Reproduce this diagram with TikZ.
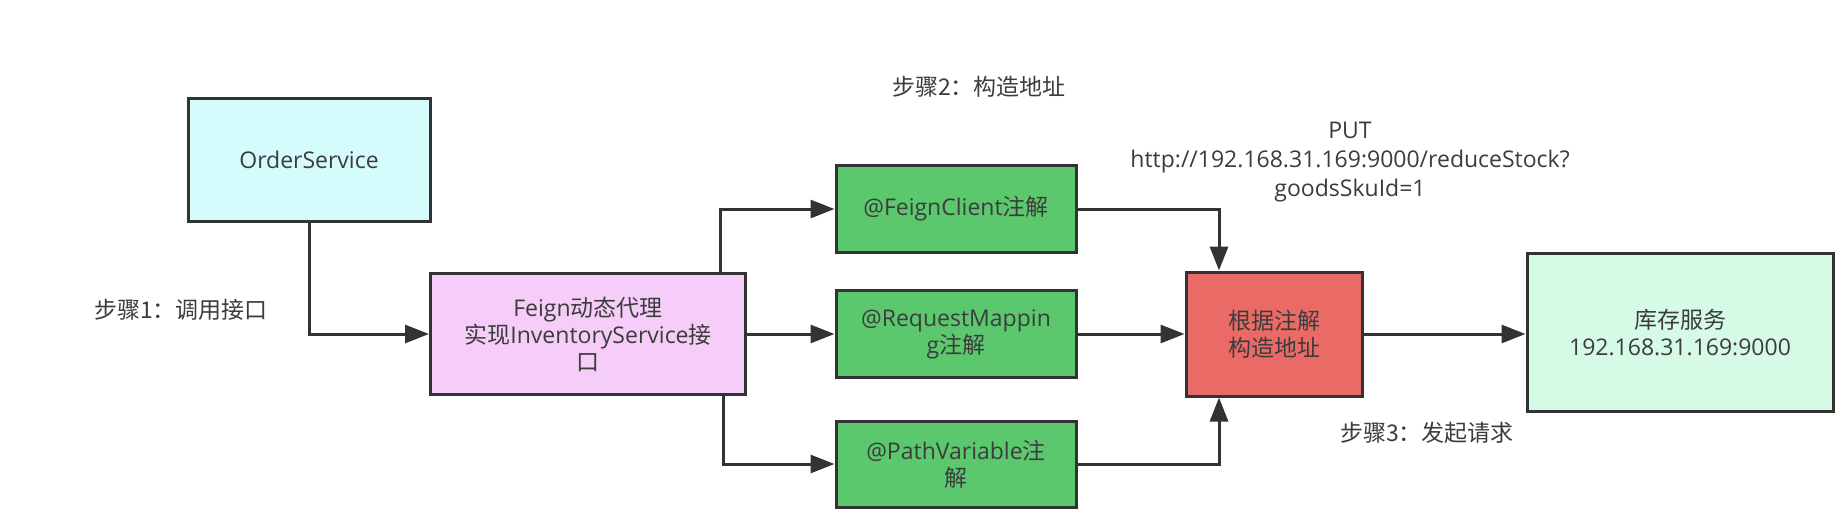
\documentclass[tikz,border=0pt]{standalone}
\usepackage{fontspec}
\setmainfont{Open Sans}
\newfontfamily\cjk{Noto Sans CJK SC}
\usepackage{xcolor}
\usepackage{tikz}
\usetikzlibrary{arrows.meta, positioning, calc}
\definecolor{edgecol}{RGB}{51, 51, 51}
\definecolor{txtcol}{RGB}{60, 60, 60}
\definecolor{ordercol}{RGB}{212, 252, 252}
\definecolor{feigncol}{RGB}{246, 204, 248}
\definecolor{annocol}{RGB}{92, 200, 110}
\definecolor{buildcol}{RGB}{234, 107, 102}
\definecolor{stockcol}{RGB}{213, 250, 229}

\begin{document}
\begin{tikzpicture}[x=1pt, y=-1pt,
    box/.style={draw=edgecol, line width=3pt, align=center, inner sep=2pt,
      text=txtcol, font=\fontsize{23}{27}\selectfont},
    flow/.style={draw=edgecol, line width=3pt,
      -{Triangle[length=24pt, width=18pt]}},
    note/.style={text=txtcol, align=center, font=\fontsize{23}{29}\selectfont}]
  \useasboundingbox[fill=white] (0, 0) rectangle (1846, 532);
  \def\midrow{334}

  % Boxes
  \node[box, fill=ordercol, minimum width=242pt, minimum height=123pt]
    (order) at (309, 160) {OrderService};
  \node[box, fill=feigncol, minimum width=315pt, minimum height=121pt]
    (feign) at (588, \midrow) {Feign{\cjk 动态代理}\\{\cjk 实现}InventoryService{\cjk 接}\\{\cjk 口}};
  \node[box, fill=annocol, minimum width=240pt, minimum height=87pt]
    (client) at (956, 209) {@FeignClient{\cjk 注解}};
  \node[box, fill=annocol, minimum width=240pt, minimum height=87pt]
    (mapping) at (956, \midrow) {@RequestMappin\\g{\cjk 注解}};
  \node[box, fill=annocol, minimum width=240pt, minimum height=86pt]
    (pathvar) at (956, 464) {@PathVariable{\cjk 注}\\{\cjk 解}};
  \node[box, fill=buildcol, minimum width=176pt, minimum height=124pt]
    (build) at (1274, \midrow) {\cjk 根据注解\\\cjk 构造地址};
  \node[box, fill=stockcol, minimum width=306pt, minimum height=158pt]
    (stock) at (1680, 332) {{\cjk 库存服务}\\192.168.31.169:9000};

  % Step labels
  \node[note] (step1) at (181, 310) {\cjk 步骤1：调用接口};
  \node[note] (step2) at (979, 87) {\cjk 步骤2：构造地址};
  \node[note] (step3) at (1427, 433) {\cjk 步骤3：发起请求};
  \node[note] (url) at (1350, 162)
    {PUT\\http://192.168.31.169:9000/reduceStock?\\goodsSkuId=1};

  % Connectors
  \draw[flow] (order.south) |- (feign.west);
  \draw[flow] ([xshift=-27pt]feign.north east) |- (client.west);
  \draw[flow] (feign.east) -- (mapping.west);
  \draw[flow] ([xshift=-24pt]feign.south east) |- (pathvar.west);
  \draw[flow] (client.east) -| ([xshift=-55pt]build.north);
  \draw[flow] (mapping.east) -- (build.west);
  \draw[flow] (pathvar.east) -| ([xshift=-55pt]build.south);
  \draw[flow] (build.east) -- (build.east -| stock.west);
\end{tikzpicture}
\end{document}
